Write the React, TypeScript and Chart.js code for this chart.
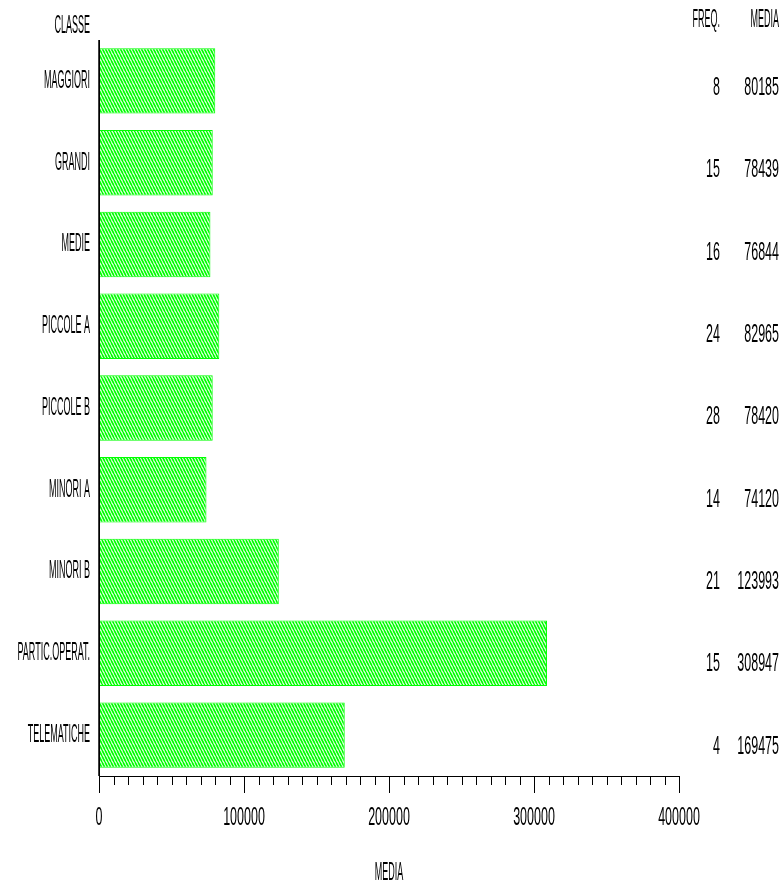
import React, { useEffect, useRef } from "react";
import { Chart, registerables } from "chart.js";

Chart.register(...registerables);

const categories = ["MAGGIORI", "GRANDI", "MEDIE", "PICCOLE A", "PICCOLE B", "MINORI A", "MINORI B", "PARTIC.OPERAT.", "TELEMATICHE"];
const freq = [8, 15, 16, 24, 28, 14, 21, 15, 4];
const media = [80185, 78439, 76844, 82965, 78420, 74120, 123993, 308947, 169475];
const xTickValues = [0, 100000, 200000, 300000, 400000];
const minorStep = 10000;
const headerClass = "CLASSE";
const headerFreq = "FREQ.";
const headerMedia = "MEDIA";
const axisTitle = "MEDIA";

const FONT = "25px 'Liberation Sans', Arial, sans-serif";
const SX_TEXT = 0.36;
const SX_NUM = 0.5;

function txt(ctx: CanvasRenderingContext2D, s: string, x: number, y: number, align: CanvasTextAlign) {
  ctx.save();
  ctx.translate(x, y);
  ctx.scale(/^[0-9]+$/.test(s) ? SX_NUM : SX_TEXT, 1);
  ctx.font = FONT;
  ctx.fillStyle = "#000";
  ctx.textAlign = align;
  ctx.textBaseline = "middle";
  ctx.fillText(s, 0, 0);
  ctx.restore();
}

function makePattern(): CanvasPattern | string {
  const c = document.createElement("canvas");
  c.width = 3;
  c.height = 6;
  const g = c.getContext("2d");
  if (!g) return "#00ff00";
  g.fillStyle = "#ffffff";
  g.fillRect(0, 0, 3, 6);
  g.strokeStyle = "#00ff00";
  g.lineWidth = 1.7;
  for (const dx of [-3, 0, 3]) {
    g.beginPath();
    g.moveTo(dx, 0);
    g.lineTo(dx + 3, 6);
    g.stroke();
  }
  const p = g.createPattern(c, "repeat");
  return p || "#00ff00";
}

const overlay = {
  id: "sasOverlay",
  afterDraw(chart: any) {
    const ctx = chart.ctx as CanvasRenderingContext2D;
    const xs = chart.scales.x;
    const ys = chart.scales.y;
    const area = chart.chartArea;
    ctx.save();
    ctx.strokeStyle = "#000";
    ctx.lineWidth = 1;
    ctx.beginPath();
    ctx.moveTo(area.left + 0.5, area.top);
    ctx.lineTo(area.left + 0.5, area.bottom + 0.5);
    ctx.lineTo(area.right, area.bottom + 0.5);
    ctx.stroke();
    ctx.lineWidth = 1.5;
    ctx.beginPath();
    ctx.moveTo(area.left, area.top);
    ctx.lineTo(area.left, area.bottom);
    ctx.stroke();
    ctx.lineWidth = 1;
    for (let v = xTickValues[0]; v <= xTickValues[xTickValues.length - 1]; v += minorStep) {
      const px = Math.round(xs.getPixelForValue(v)) + 0.5;
      const major = xTickValues.includes(v);
      ctx.beginPath();
      ctx.moveTo(px, area.bottom);
      ctx.lineTo(px, area.bottom + (major ? 17 : 9));
      ctx.stroke();
    }
    ctx.restore();
    xTickValues.forEach((v) => txt(ctx, String(v), xs.getPixelForValue(v), area.bottom + 42, "center"));
    txt(ctx, axisTitle, (area.left + area.right) / 2, area.bottom + 97, "center");
    categories.forEach((c, i) => {
      const y = ys.getPixelForValue(i);
      txt(ctx, c, area.left - 9, y, "right");
      const yr = y + 7 + i * 0.6;
      txt(ctx, String(freq[i]), area.right + 41, yr, "right");
      txt(ctx, String(media[i]), area.right + 100, yr, "right");
    });
    txt(ctx, headerClass, area.left - 9, area.top - 14, "right");
    txt(ctx, headerFreq, area.right + 41, area.top - 20, "right");
    txt(ctx, headerMedia, area.right + 100, area.top - 20, "right");
  },
};

export default function App() {
  const ref = useRef<HTMLCanvasElement | null>(null);
  useEffect(() => {
    document.body.style.margin = "0";
    const canvas = ref.current;
    if (!canvas) return;
    const chart = new Chart(canvas, {
      type: "bar",
      data: {
        labels: categories,
        datasets: [
          {
            data: media,
            backgroundColor: makePattern() as any,
            borderColor: "#00ff00",
            borderWidth: 1,
            borderSkipped: false,
            barPercentage: 0.8,
            categoryPercentage: 1,
          },
        ],
      },
      options: {
        indexAxis: "y",
        responsive: false,
        animation: false,
        events: [],
        layout: { padding: { left: 99, right: 104, top: 40, bottom: 111 } },
        plugins: { legend: { display: false }, tooltip: { enabled: false }, title: { display: false } },
        scales: {
          x: {
            min: 0,
            max: 400000,
            ticks: { display: false },
            grid: { display: false },
            border: { display: false },
            afterFit: (s: any) => { s.height = 0; },
          },
          y: {
            ticks: { display: false },
            grid: { display: false },
            border: { display: false },
            afterFit: (s: any) => { s.width = 0; },
          },
        },
      },
      plugins: [overlay],
    });
    return () => chart.destroy();
  }, []);
  return (
    <div style={{ position: "absolute", left: 0, top: 0, width: 783, height: 887, background: "#fff" }}>
      <canvas ref={ref} width={783} height={887} style={{ display: "block" }} />
    </div>
  );
}
